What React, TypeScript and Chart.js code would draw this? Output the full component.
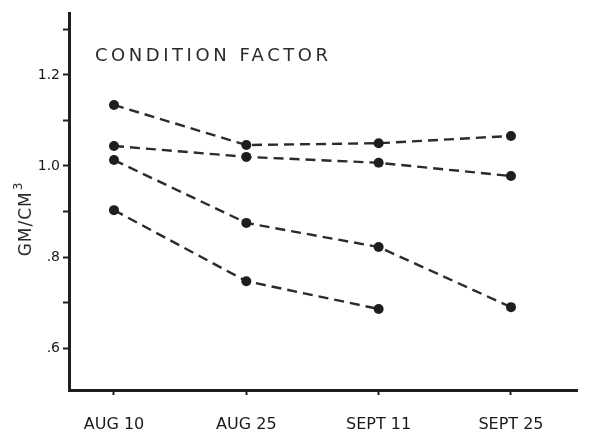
import React, { useEffect, useRef } from "react";
import { Chart, registerables } from "chart.js";

Chart.register(...registerables);

const categories = ["AUG 10", "AUG 25", "SEPT 11", "SEPT 25"];
const seriesA = [1.134, 1.046, 1.05, 1.066];
const seriesB = [1.044, 1.02, 1.007, 0.978];
const seriesC = [1.013, 0.875, 0.822, 0.69];
const seriesD = [0.903, 0.747, 0.686, null];
const yTicks = [0.6, 0.7, 0.8, 0.9, 1.0, 1.1, 1.2, 1.3];
const yLabels: Record<string, string> = { "0.6": ".6", "0.8": ".8", "1.0": "1.0", "1.2": "1.2" };
const titleText = "CONDITION FACTOR";
const yAxisLabel = "GM/CM";
const yAxisSup = "3";

const INK = "#1e1e1e";
const FONT = "'DejaVu Sans', sans-serif";

const textPlugin = {
  id: "textPlugin",
  afterDraw(chart: any) {
    const ctx = chart.ctx;
    ctx.save();
    ctx.fillStyle = "#2a2a2a";
    ctx.font = `18px ${FONT}`;
    ctx.textBaseline = "alphabetic";
    ctx.textAlign = "left";
    const w0 = ctx.measureText(titleText).width;
    const spacing = (233 - w0) / (titleText.length - 1);
    (ctx as any).letterSpacing = `${spacing}px`;
    ctx.fillText(titleText, 95, 61);
    (ctx as any).letterSpacing = "0px";
    ctx.translate(31, 219);
    ctx.rotate(-Math.PI / 2);
    ctx.font = `17px ${FONT}`;
    (ctx as any).letterSpacing = "1px";
    const mainW = ctx.measureText(yAxisLabel).width;
    ctx.font = `12px ${FONT}`;
    const supW = ctx.measureText(yAxisSup).width;
    const total = mainW + supW + 1;
    ctx.font = `17px ${FONT}`;
    ctx.fillText(yAxisLabel, -total / 2, 0);
    ctx.font = `12px ${FONT}`;
    ctx.fillText(yAxisSup, -total / 2 + mainW + 1, -9);
    ctx.restore();
  },
};

function mkDataset(values: (number | null)[]) {
  return {
    data: values.map((v, i) => ({ x: i, y: v })),
    borderColor: "#2b2b2b",
    borderWidth: 2.4,
    borderDash: [10, 6],
    pointRadius: 5,
    pointBackgroundColor: INK,
    pointBorderColor: INK,
    pointBorderWidth: 0,
    spanGaps: false,
    fill: false,
    tension: 0,
  };
}

export default function App() {
  const ref = useRef<HTMLCanvasElement>(null);
  useEffect(() => {
    const chart = new Chart(ref.current!, {
      type: "line",
      data: {
        datasets: [mkDataset(seriesA), mkDataset(seriesB), mkDataset(seriesC), mkDataset(seriesD)],
      },
      plugins: [textPlugin],
      options: {
        responsive: false,
        animation: false,
        layout: { padding: { top: 13, right: 23, left: 0, bottom: 0 } },
        plugins: { legend: { display: false }, tooltip: { enabled: false }, title: { display: false } },
        scales: {
          x: {
            type: "linear",
            min: -0.34,
            max: 3.499,
            afterFit: (s: any) => {
              s.height = 57;
            },
            afterBuildTicks: (s: any) => {
              s.ticks = categories.map((_, i) => ({ value: i }));
            },
            border: { display: true, color: INK, width: 3 },
            grid: { drawOnChartArea: false, drawTicks: true, tickLength: 5, tickColor: INK, tickWidth: 2 },
            ticks: {
              color: "#1a1a1a",
              font: { family: FONT, size: 16 },
              padding: 20,
              maxRotation: 0,
              autoSkip: false,
              callback: (v: any) => categories[Math.round(Number(v))] ?? "",
            },
          },
          y: {
            type: "linear",
            min: 0.508,
            max: 1.336,
            afterFit: (s: any) => {
              s.width = 69;
            },
            afterBuildTicks: (s: any) => {
              s.ticks = yTicks.map((v) => ({ value: v }));
            },
            border: { display: true, color: INK, width: 3 },
            grid: { drawOnChartArea: false, drawTicks: true, tickLength: 6, tickColor: INK, tickWidth: 2 },
            ticks: {
              color: "#1a1a1a",
              font: { family: FONT, size: 14 },
              padding: 3,
              autoSkip: false,
              callback: (v: any) => yLabels[Number(v).toFixed(1)] ?? "",
            },
          },
        },
      },
    } as any);
    return () => chart.destroy();
  }, []);
  return (
    <div style={{ position: "absolute", left: 0, top: 0, width: 600, height: 447, background: "#fff" }}>
      <canvas ref={ref} width={600} height={447} />
    </div>
  );
}
